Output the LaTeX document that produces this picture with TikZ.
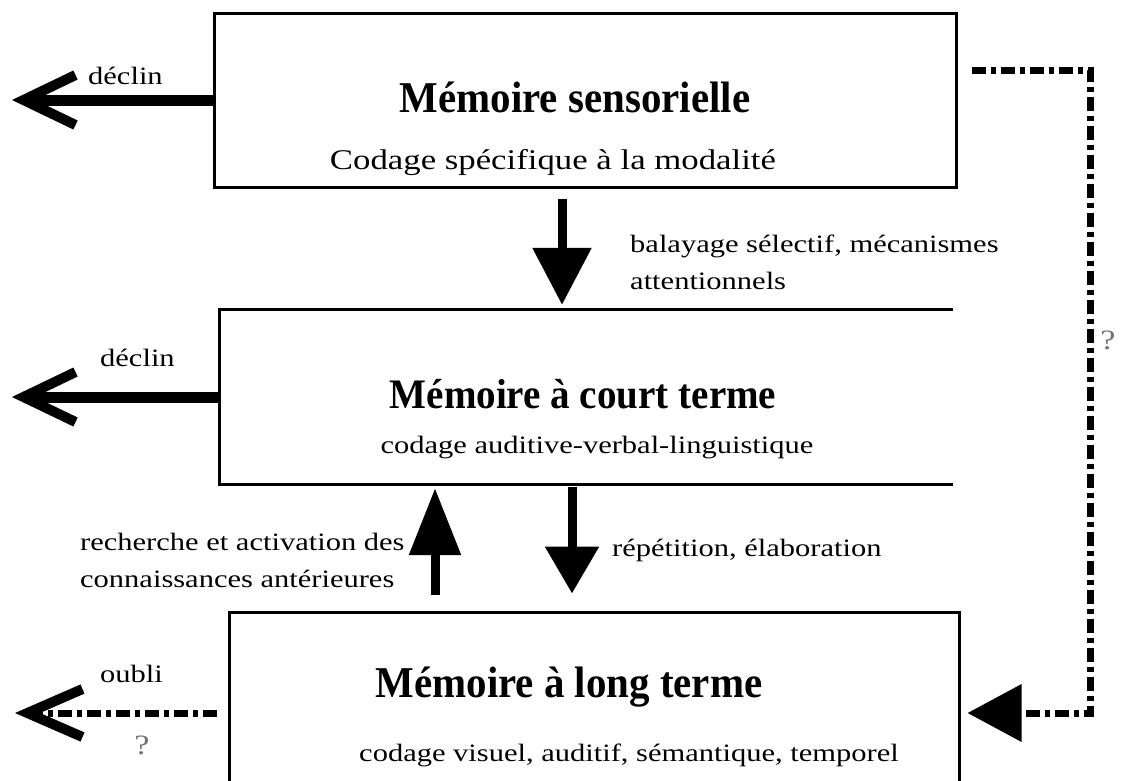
\documentclass[tikz,border=0pt]{standalone}
\usepackage{fontspec}
\setmainfont{Liberation Serif}
\newfontfamily\labelfont{Liberation Serif}[FakeStretch=1.22]
\newfontfamily\headfont{Liberation Serif Bold}[FakeStretch=0.93]
\usetikzlibrary{arrows.meta}

\begin{document}
\begin{tikzpicture}[x=1pt,y=-1pt,
  box/.style={draw, line width=3pt, inner sep=0pt},
  frame/.style={inner sep=0pt},
  titletext/.style={inner sep=0pt, font=\headfont\fontsize{44}{50}\selectfont},
  codetext/.style={inner sep=0pt, font=\labelfont\fontsize{25}{30}\selectfont},
  lbl/.style={inner sep=0pt, font=\labelfont\fontsize{25}{37}\selectfont, align=left},
  qmark/.style={inner sep=0pt, text=black!55, font=\labelfont\fontsize{28}{32}\selectfont},
  decay/.style={line width=11pt, -{Straight Barb[length=52pt, width=50pt, line width=10pt]}},
  forget/.style={line width=7pt, dash pattern=on 14pt off 5pt on 5pt off 5pt,
    -{Straight Barb[length=55pt, width=48pt, line width=10pt]}},
  flow/.style={line width=9pt, -{Triangle[length=57pt, width=57pt]}},
  feedback/.style={line width=7pt, dash pattern=on 14pt off 5pt on 5pt off 5pt,
    -{Triangle[length=54pt, width=56pt]}},
]
\useasboundingbox (0,0) rectangle (1121,780);

% the three stores
\node[box, minimum width=742pt, minimum height=174pt] (sens) at (585,100) {};
\node[frame, minimum width=733pt, minimum height=174pt] (court) at (586.5,397) {};
\draw[line width=3pt] (court.north east) -- (court.north west)
  -- (court.south west) -- (court.south east);
\node[box, minimum width=730pt, minimum height=218pt] (long) at (594,721) {};

% box contents
\node[titletext] (t1) at (575,97) {Mémoire sensorielle};
\node[codetext, font=\labelfont\fontsize{28.5}{32}\selectfont] (c1) at (553,163) {Codage spécifique à la modalité};
\node[titletext, font=\headfont\fontsize{42}{48}\selectfont] (t2) at (583,394) {Mémoire à court terme};
\node[codetext] (c2) at (597,448) {codage auditive-verbal-linguistique};
\node[titletext] (t3) at (569,687) {Mémoire à long terme};
\node[codetext] (c3) at (629,755) {codage visuel, auditif, sémantique, temporel};

% free ends and columns
\coordinate (decayA) at (12,100);
\coordinate (decayB) at (12,397);
\coordinate (oubliEnd) at (15,713);
\coordinate (colA) at (562,0);
\coordinate (colB) at (435,0);
\coordinate (colC) at (572,0);
\coordinate (fbTop) at (1090,70);
\coordinate (fbBot) at (1090,713);

% decay / forgetting
\draw[decay] (sens.west) -- (decayA);
\draw[decay] (court.west) -- (decayB);
\draw[forget, shorten <=11pt] (long.west |- oubliEnd) -- (oubliEnd);

% transfers between stores
\draw[flow, shorten <=10pt, shorten >=5pt] (sens.south -| colA) -- (court.north -| colA);
\draw[flow, -{Triangle[length=67pt, width=50pt]}, shorten <=16pt, shorten >=4pt]
  (long.north -| colB) -- (court.south -| colB);
\draw[flow, -{Triangle[length=47pt, width=52pt]}, shorten <=3pt, shorten >=17pt]
  (court.south -| colC) -- (long.north -| colC);

% direct route from sensory to long-term memory
\draw[feedback, shorten <=14pt, shorten >=7pt] (sens.east |- fbTop) -| (fbBot) -- (long.east |- fbBot);

% labels
\node[lbl, anchor=west] (l1) at (88,76) {déclin};
\node[lbl, anchor=west] (l2) at (100,358) {déclin};
\node[lbl, anchor=west] (l3) at (100,674) {oubli};
\node[qmark] (q1) at (142,745) {?};
\node[qmark] (q2) at (1108,340) {?};
\node[lbl, anchor=north west] (l4) at (630,235) {balayage sélectif, mécanismes\\attentionnels};
\node[lbl, anchor=north west] (l5) at (80,533) {recherche et activation des\\connaissances antérieures};
\node[lbl, anchor=west] (l6) at (612,550) {répétition, élaboration};
\end{tikzpicture}
\end{document}
